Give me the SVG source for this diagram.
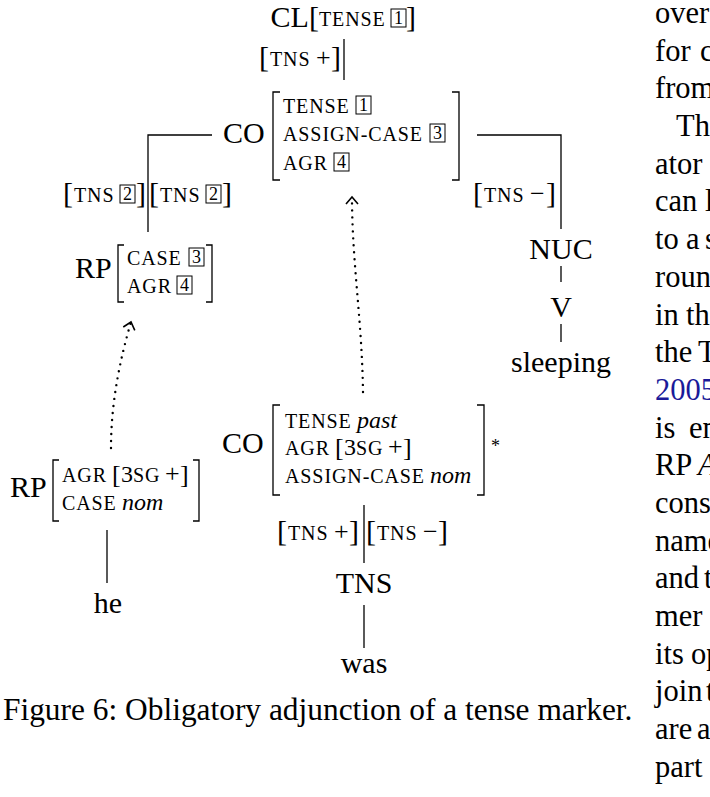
<svg xmlns="http://www.w3.org/2000/svg" width="710" height="797" viewBox="0 0 710 797">
<style>
text{font-family:"Liberation Serif","Times New Roman",serif;fill:#000}
.lb{font-size:30px}
.mid{text-anchor:middle}
.sc{font-size:20px;letter-spacing:0.9px}
.br{font-size:30px}
.ib{font-size:26px}
.op{font-size:26px}
.it{font-size:24px;font-style:italic}
.dg{font-size:24px}
.bx{fill:none;stroke:#000;stroke-width:1}
.bn{font-size:18px;text-anchor:middle}
.ln{fill:none;stroke:#000;stroke-width:1.3}
.avm{fill:none;stroke:#000;stroke-width:1.3}
.dot{fill:none;stroke:#000;stroke-width:2.4;stroke-linecap:round;stroke-dasharray:0 7}
.body{font-size:30.5px}
.cap{font-size:31.4px}
.link{fill:#1a1a99}
</style>
<defs>
<rect id="box" width="15" height="18" class="bx"/>
<marker id="chev" viewBox="-10 -8 12 16" refX="0" refY="0" markerWidth="12" markerHeight="16" markerUnits="userSpaceOnUse" orient="auto">
<path d="M-7,-6 L0,0 L-7,6" fill="none" stroke="#000" stroke-width="1.6"/>
</marker>
</defs>

<g id="connectors">
<line class="ln" x1="344" y1="39" x2="344" y2="80"/>
<polyline class="ln" points="212,135 148,135 148,232"/>
<polyline class="ln" points="477,135 561,135 561,229"/>
<line class="ln" x1="561" y1="266" x2="561" y2="282"/>
<line class="ln" x1="561" y1="324" x2="561" y2="342"/>
<line class="ln" x1="107" y1="530" x2="107" y2="583"/>
<line class="ln" x1="364" y1="505" x2="364" y2="563"/>
<line class="ln" x1="364" y1="605" x2="364" y2="648"/>
<path class="dot" d="M111,448 C111,400 121,356 131,322" marker-end="url(#chev)"/>
<path class="dot" d="M363,392 C362,320 352,262 352,197" marker-end="url(#chev)"/>
<g id="lbl-cl-co">
<text class="br" x="259" y="67">[</text><text class="sc" x="270" y="66">TNS</text><text class="op" x="316" y="66">+</text><text class="br" x="331" y="67">]</text>
</g>
<g id="lbl-co-rp">
<text class="br" x="63" y="203">[</text><text class="sc" x="74" y="202">TNS</text><use href="#box" x="120" y="185"/><text class="bn" x="127.5" y="200">2</text><text class="br" x="136" y="203">]</text>
<text class="br" x="149" y="203">[</text><text class="sc" x="160" y="202">TNS</text><use href="#box" x="206" y="185"/><text class="bn" x="213.5" y="200">2</text><text class="br" x="222" y="203">]</text>
</g>
<g id="lbl-co-nuc">
<text class="br" x="473" y="203">[</text><text class="sc" x="484" y="202">TNS</text><text class="op" x="530" y="202">−</text><text class="br" x="546" y="203">]</text>
</g>
<g id="lbl-co-tns">
<text class="br" x="277" y="541">[</text><text class="sc" x="288" y="540">TNS</text><text class="op" x="334" y="540">+</text><text class="br" x="349" y="541">]</text>
<text class="br" x="366" y="541">[</text><text class="sc" x="377" y="540">TNS</text><text class="op" x="423" y="540">−</text><text class="br" x="438" y="541">]</text>
</g>
</g>

<g id="node-cl">
<text class="lb" x="270.5" y="27">CL</text>
<text class="br" x="309" y="27">[</text>
<text class="sc" x="319" y="26">TENSE</text>
<use href="#box" x="391" y="9"/><text class="bn" x="398.5" y="24">1</text>
<text class="br" x="406" y="27">]</text>
</g>

<g id="node-co-top">
<text class="lb" x="223" y="143">CO</text>
<path class="avm" d="M280,92H273V180H280"/>
<path class="avm" d="M452,92H459V180H452"/>
<text class="sc" x="283" y="113">TENSE</text><use href="#box" x="356" y="96"/><text class="bn" x="363.5" y="111">1</text>
<text class="sc" x="283" y="141">ASSIGN-CASE</text><use href="#box" x="430" y="124"/><text class="bn" x="437.5" y="139">3</text>
<text class="sc" x="283" y="170">AGR</text><use href="#box" x="334" y="153"/><text class="bn" x="341.5" y="168">4</text>
</g>

<g id="node-rp-mid">
<text class="lb" x="75" y="278">RP</text>
<path class="avm" d="M124,245H118V302H124"/>
<path class="avm" d="M206,245H212V302H206"/>
<text class="sc" x="127" y="265">CASE</text><use href="#box" x="189" y="248"/><text class="bn" x="196.5" y="263">3</text>
<text class="sc" x="127" y="293">AGR</text><use href="#box" x="177" y="276"/><text class="bn" x="184.5" y="291">4</text>
</g>

<g id="node-nuc"><text class="lb mid" x="561" y="259">NUC</text></g>
<g id="node-v"><text class="lb mid" x="561" y="317">V</text></g>
<g id="node-sleeping"><text class="lb mid" x="561" y="372">sleeping</text></g>

<g id="node-rp-bot">
<text class="lb" x="10" y="497">RP</text>
<path class="avm" d="M59,460H53V521H59"/>
<path class="avm" d="M193,460H199V521H193"/>
<text class="sc" x="62" y="482">AGR</text><text class="ib" x="112" y="483">[</text><text class="dg" x="121" y="482">3</text><text class="sc" x="133" y="482">SG</text><text class="op" x="165" y="482">+</text><text class="ib" x="180" y="483">]</text>
<text class="sc" x="62" y="510">CASE</text><text class="it" x="122" y="510">nom</text>
</g>
<g id="node-he"><text class="lb mid" x="108" y="613">he</text></g>

<g id="node-co-bot">
<text class="lb" x="222" y="453">CO</text>
<path class="avm" d="M280,405H273V495H280"/>
<path class="avm" d="M477,405H484V495H477"/>
<text x="491" y="452" style="font-size:18px">*</text>
<text class="sc" x="285" y="428">TENSE</text><text class="it" x="357" y="428">past</text>
<text class="sc" x="285" y="455">AGR</text><text class="ib" x="335" y="456">[</text><text class="dg" x="344" y="455">3</text><text class="sc" x="356" y="455">SG</text><text class="op" x="388" y="455">+</text><text class="ib" x="403" y="456">]</text>
<text class="sc" x="285" y="483">ASSIGN-CASE</text><text class="it" x="430" y="483">nom</text>
</g>
<g id="node-tns"><text class="lb mid" x="364" y="593">TNS</text></g>
<g id="node-was"><text class="lb mid" x="364" y="673">was</text></g>

<text class="cap" x="3" y="720">Figure 6: Obligatory adjunction of a tense marker.</text>

<g id="body-text">
<text class="body" x="655" y="23">over</text>
<text class="body" x="655" y="61">for</text><text class="body" x="700" y="61">c</text>
<text class="body" x="655" y="98">from</text>
<text class="body" x="676" y="136">Th</text>
<text class="body" x="655" y="174">ator</text>
<text class="body" x="655" y="211">can</text><text class="body" x="705" y="211">l</text>
<text class="body" x="655" y="249">to</text><text class="body" x="686" y="249">a</text><text class="body" x="705" y="249">s</text>
<text class="body" x="655" y="287">roun</text>
<text class="body" x="655" y="325">in</text><text class="body" x="686" y="325">th</text>
<text class="body" x="655" y="362">the</text><text class="body" x="698" y="362">T</text>
<text class="body link" x="655" y="400">2005</text>
<text class="body" x="655" y="438">is</text><text class="body" x="689" y="438">en</text>
<text class="body" x="655" y="475">RP</text><text class="body" x="698" y="475" font-style="italic">A</text>
<text class="body" x="655" y="513">cons</text>
<text class="body" x="655" y="551">name</text>
<text class="body" x="655" y="588">and</text><text class="body" x="704" y="588">t</text>
<text class="body" x="655" y="626">mer</text>
<text class="body" x="655" y="664">its</text><text class="body" x="691" y="664">op</text>
<text class="body" x="655" y="701">join</text><text class="body" x="706" y="701">t</text>
<text class="body" x="655" y="739">are</text><text class="body" x="697" y="739">a</text>
<text class="body" x="655" y="777">part</text>
</g>
</svg>
